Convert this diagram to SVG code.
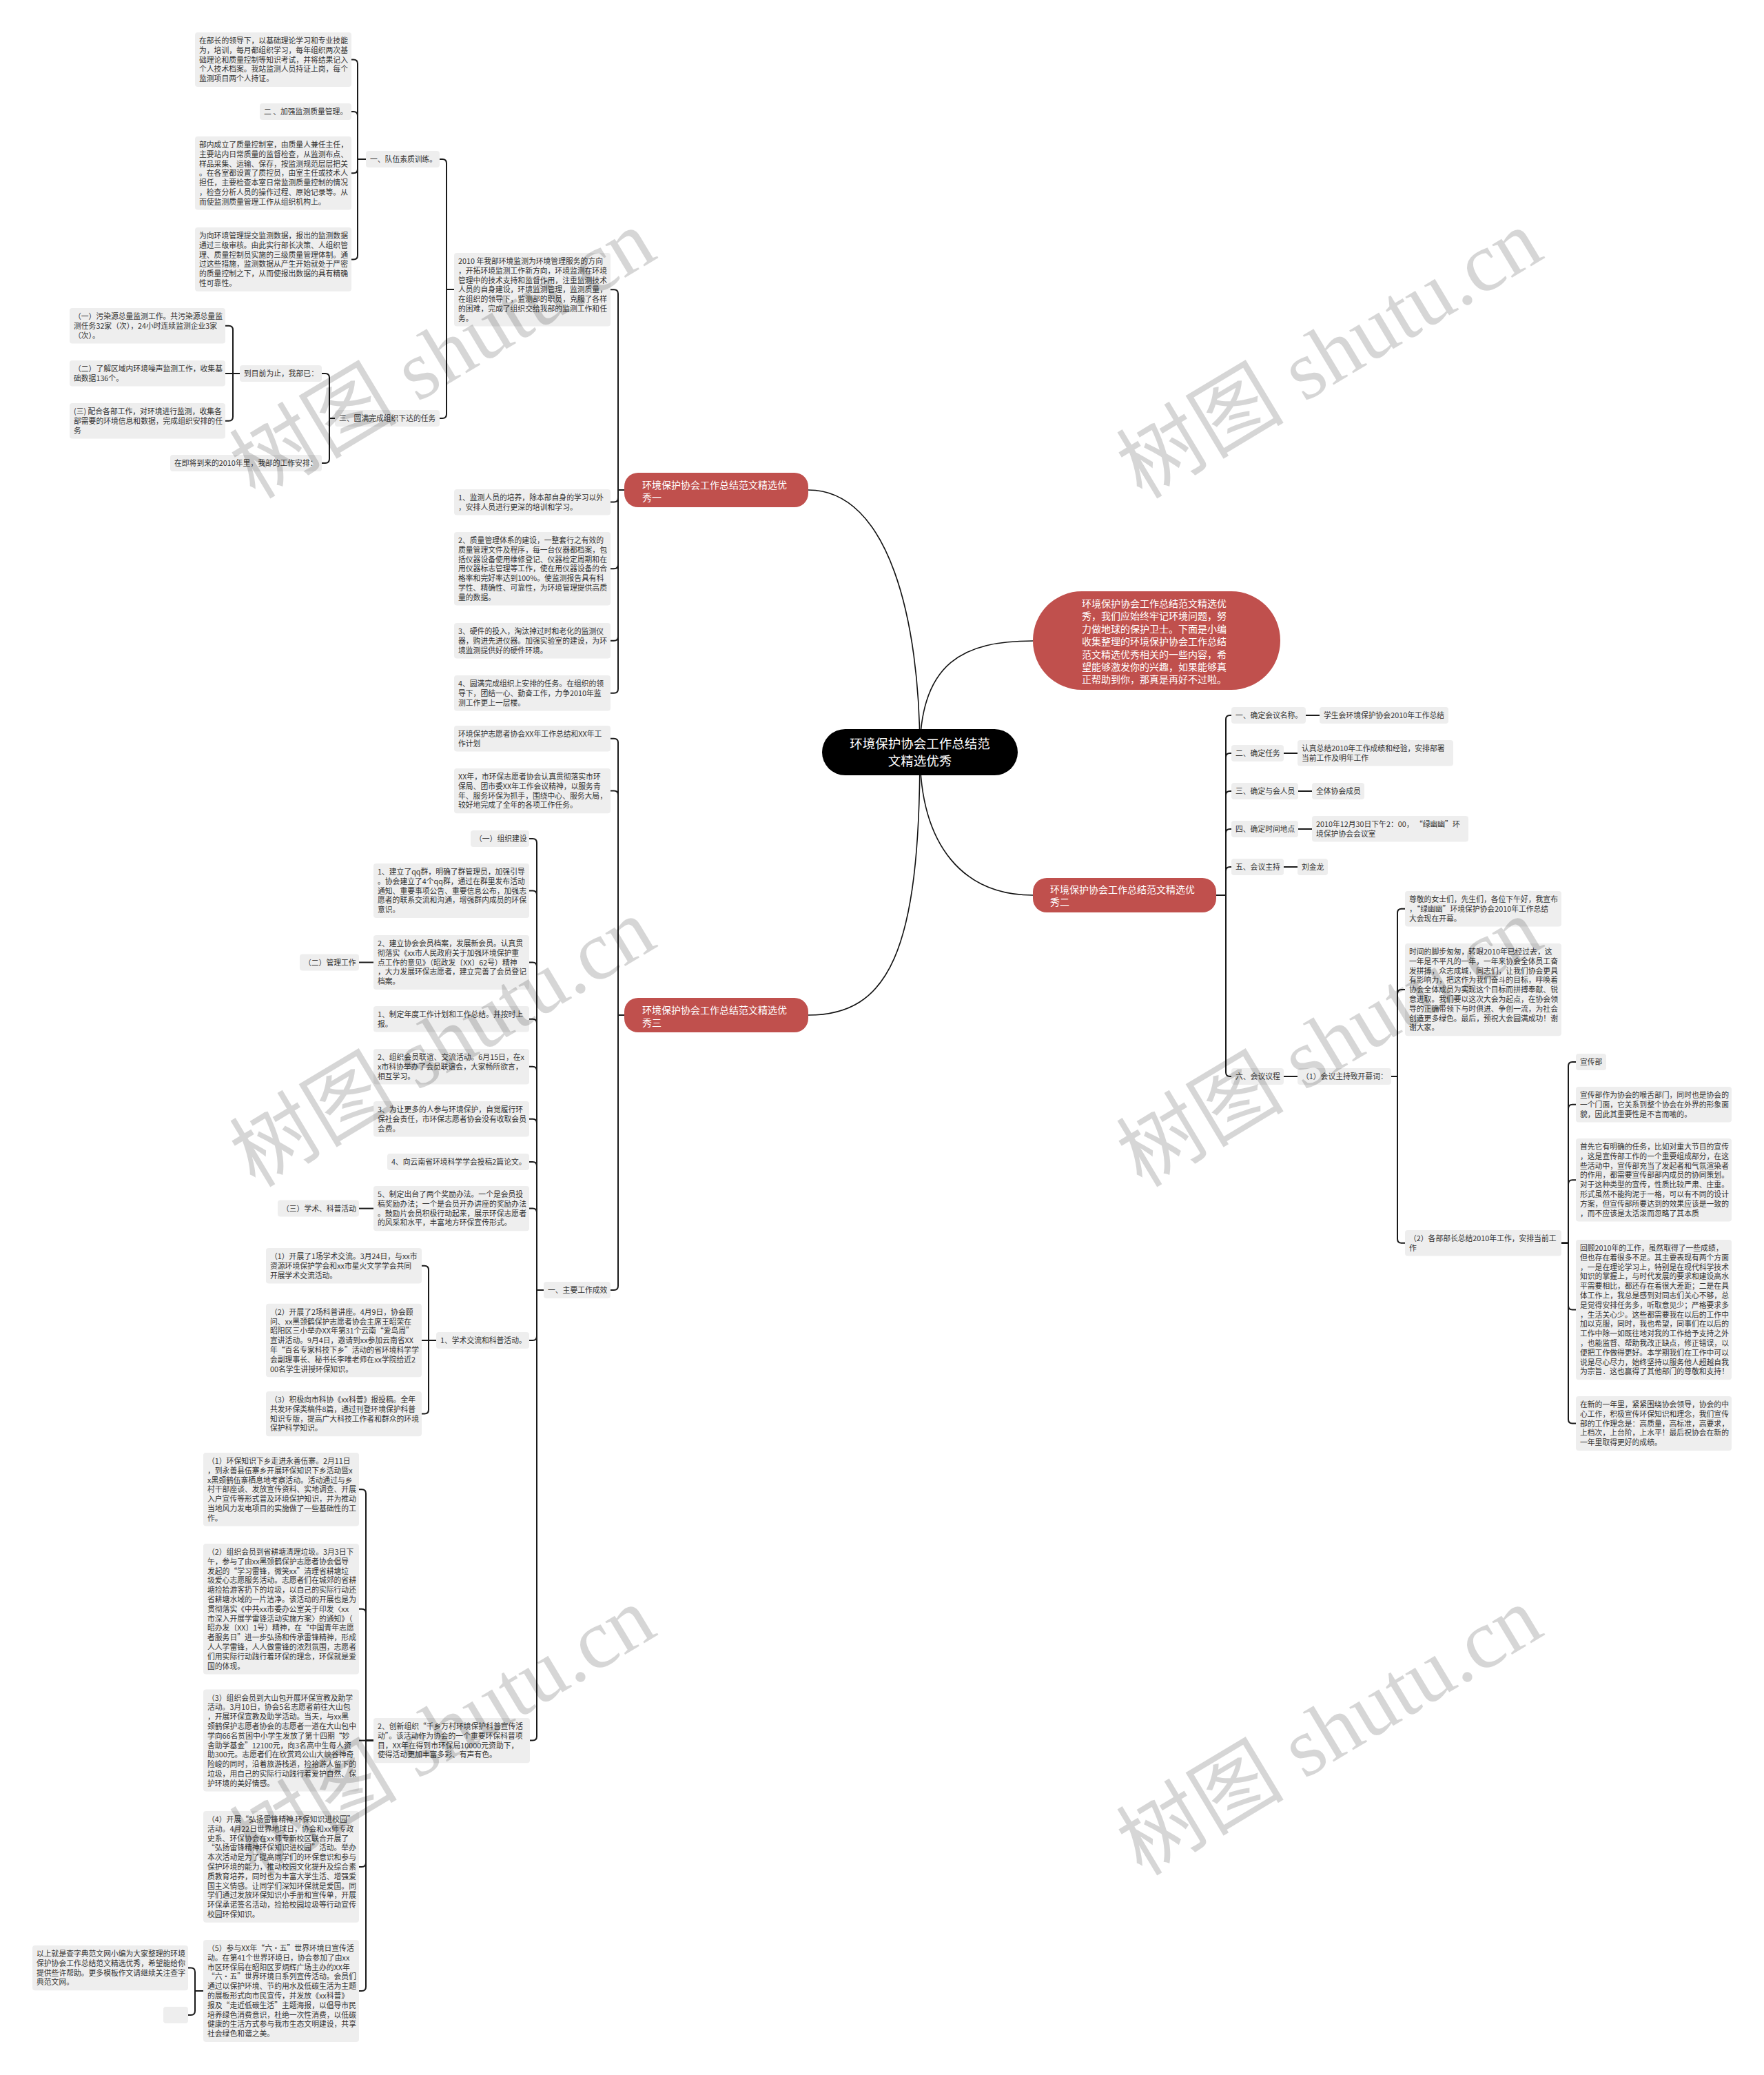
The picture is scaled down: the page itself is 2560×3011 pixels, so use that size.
<svg xmlns="http://www.w3.org/2000/svg" width="2560" height="3011" viewBox="0 0 2560 3011">
<style>
.b{fill:#eeeeee}
.t{font-family:"Noto Sans CJK SC","Noto Sans",sans-serif;font-size:10.8px;fill:#333}
.c{fill:none;stroke:#1a1a1a;stroke-width:2}
.m{fill:none;stroke:#111;stroke-width:1.6}
.r{fill:#c0504d}
.rt{font-family:"Noto Sans CJK SC","Noto Sans",sans-serif;font-size:14px;fill:#fff}
.ct{font-family:"Noto Sans CJK SC","Noto Sans",sans-serif;font-size:18.5px;fill:#fff;text-anchor:middle}
.w{font-family:"Liberation Serif","Noto Sans CJK SC",serif;font-size:122px;fill:#000;fill-opacity:.16;text-anchor:middle}
</style>
<defs>
<text id="wm" class="w" x="0" y="40">树图 shutu.cn</text>
</defs>
<rect width="2560" height="3011" fill="#fff"/>
<g id="connectors">
<path class="m" d="M1335,1091C1335,900 1290,711 1173,711"/>
<path class="m" d="M1335,1091C1335,960 1400,930 1499,930"/>
<path class="m" d="M1335,1091C1335,1230 1400,1299 1499,1299"/>
<path class="m" d="M1335,1091C1335,1380 1290,1473 1173,1473"/>
<path class="c" d="M531,231H519V92.5Q519,86.5 513,86.5H510"/>
<path class="c" d="M531,231H519V168Q519,162 513,162H510"/>
<path class="c" d="M531,231H519V245.3Q519,251.3 513,251.3H510"/>
<path class="c" d="M531,231H519V370.5Q519,376.5 513,376.5H510"/>
<path class="c" d="M659,420H648V237Q648,231 642,231H638"/>
<path class="c" d="M659,420H648V601Q648,607 642,607H638"/>
<path class="c" d="M486,607H478V548Q478,542 472,542H467"/>
<path class="c" d="M486,607H478V666Q478,672 472,672H467"/>
<path class="c" d="M348,542H338V478.7Q338,472.7 332,472.7H327"/>
<path class="c" d="M348,542H327"/>
<path class="c" d="M348,542H338V604.7Q338,610.7 332,610.7H327"/>
<path class="c" d="M906,711H897V426.3Q897,420.3 891,420.3H886"/>
<path class="c" d="M906,711H897V722.5Q897,728.5 891,728.5H886"/>
<path class="c" d="M906,711H897V819.3Q897,825.3 891,825.3H886"/>
<path class="c" d="M906,711H897V923.7Q897,929.7 891,929.7H886"/>
<path class="c" d="M906,711H897V999.7Q897,1005.7 891,1005.7H886"/>
<path class="c" d="M1765,1299H1779V1044Q1779,1038 1785,1038H1787"/>
<path class="c" d="M1765,1299H1779V1099Q1779,1093 1785,1093H1787"/>
<path class="c" d="M1765,1299H1779V1154Q1779,1148 1785,1148H1787"/>
<path class="c" d="M1765,1299H1779V1209Q1779,1203 1785,1203H1787"/>
<path class="c" d="M1765,1299H1779V1264Q1779,1258 1785,1258H1787"/>
<path class="c" d="M1765,1299H1779V1556Q1779,1562 1785,1562H1787"/>
<path class="c" d="M1895,1038H1915"/>
<path class="c" d="M1863,1093H1883"/>
<path class="c" d="M1884,1148H1904"/>
<path class="c" d="M1884,1203H1904"/>
<path class="c" d="M1863,1258H1883"/>
<path class="c" d="M1863,1562H1883"/>
<path class="c" d="M2019,1562H2028V1324.7Q2028,1318.7 2034,1318.7H2039"/>
<path class="c" d="M2019,1562H2028V1442.1Q2028,1436.1 2034,1436.1H2039"/>
<path class="c" d="M2019,1562H2028V1797.8Q2028,1803.8 2034,1803.8H2039"/>
<path class="c" d="M2266,1803.8H2276V1547Q2276,1541 2282,1541H2287"/>
<path class="c" d="M2266,1803.8H2276V1608.7Q2276,1602.7 2282,1602.7H2287"/>
<path class="c" d="M2266,1803.8H2276V1718.2Q2276,1712.2 2282,1712.2H2287"/>
<path class="c" d="M2266,1803.8H2276V1894.6Q2276,1900.6 2282,1900.6H2287"/>
<path class="c" d="M2266,1803.8H2276V2059.5Q2276,2065.5 2282,2065.5H2287"/>
<path class="c" d="M906,1473H897V1077.8Q897,1071.8 891,1071.8H886"/>
<path class="c" d="M906,1473H897V1153.6Q897,1147.6 891,1147.6H886"/>
<path class="c" d="M906,1473H897V1866Q897,1872 891,1872H886"/>
<path class="c" d="M789,1872H779V1223Q779,1217 773,1217H768"/>
<path class="c" d="M789,1872H779V1298.5Q779,1292.5 773,1292.5H768"/>
<path class="c" d="M789,1872H779V1402.5Q779,1396.5 773,1396.5H768"/>
<path class="c" d="M789,1872H779V1484.8Q779,1478.8 773,1478.8H768"/>
<path class="c" d="M789,1872H779V1553.7Q779,1547.7 773,1547.7H768"/>
<path class="c" d="M789,1872H779V1629.7Q779,1623.7 773,1623.7H768"/>
<path class="c" d="M789,1872H779V1692Q779,1686 773,1686H768"/>
<path class="c" d="M789,1872H779V1759.6Q779,1753.6 773,1753.6H768"/>
<path class="c" d="M789,1872H779V1939Q779,1945 773,1945H768"/>
<path class="c" d="M789,1872H779V2519.6Q779,2525.6 773,2525.6H768"/>
<path class="c" d="M542,1396.5H521"/>
<path class="c" d="M542,1753.6H521"/>
<path class="c" d="M633,1945H622V1842.7Q622,1836.7 616,1836.7H612"/>
<path class="c" d="M633,1945H612"/>
<path class="c" d="M633,1945H622V2045.6Q622,2051.6 616,2051.6H612"/>
<path class="c" d="M542,2525.6H531V2167.3Q531,2161.3 525,2161.3H521"/>
<path class="c" d="M542,2525.6H531V2340.7Q531,2334.7 525,2334.7H521"/>
<path class="c" d="M542,2525.6H521"/>
<path class="c" d="M542,2525.6H531V2702.9Q531,2708.9 525,2708.9H521"/>
<path class="c" d="M542,2525.6H531V2883Q531,2889 525,2889H521"/>
<path class="c" d="M295,2889H283V2861.6Q283,2855.6 277,2855.6H273"/>
<path class="c" d="M295,2889H283V2918Q283,2924 277,2924H273"/>
</g>

<g id="center"><rect x="1193" y="1058" width="284" height="67" rx="33.5" fill="#000"/><text class="ct"><tspan x="1335" y="1086">环境保护协会工作总结范</tspan><tspan x="1335" y="1110.5">文精选优秀</tspan></text></g>

<g id="b1"><rect class="r" x="906" y="686" width="267" height="50" rx="20"/><text class="rt"><tspan x="932" y="709">环境保护协会工作总结范文精选优</tspan><tspan x="932" y="726.5">秀一</tspan></text></g>
<g id="intro"><rect class="r" x="1499" y="858" width="359" height="143" rx="71"/><text class="rt"><tspan x="1570" y="881">环境保护协会工作总结范文精选优</tspan><tspan x="1570" y="899.4">秀，我们应始终牢记环境问题，努</tspan><tspan x="1570" y="917.8">力做地球的保护卫士。下面是小编</tspan><tspan x="1570" y="936.2">收集整理的环境保护协会工作总结</tspan><tspan x="1570" y="954.6">范文精选优秀相关的一些内容，希</tspan><tspan x="1570" y="973">望能够激发你的兴趣，如果能够真</tspan><tspan x="1570" y="991.4">正帮助到你，那真是再好不过啦。</tspan></text></g>
<g id="b2"><rect class="r" x="1499" y="1274" width="266" height="50" rx="20"/><text class="rt"><tspan x="1524" y="1296">环境保护协会工作总结范文精选优</tspan><tspan x="1524" y="1313.5">秀二</tspan></text></g>
<g id="b4"><rect class="r" x="906" y="1448" width="267" height="50" rx="20"/><text class="rt"><tspan x="932" y="1471">环境保护协会工作总结范文精选优</tspan><tspan x="932" y="1488.5">秀三</tspan></text></g>

<g id="a1"><rect class="b" x="283" y="47" width="227" height="79" rx="4"/><text class="t"><tspan x="289" y="63">在部长的领导下，以基础理论学习和专业技能</tspan><tspan x="289" dy="13.8">为，培训，每月都组织学习，每年组织两次基</tspan><tspan x="289" dy="13.8">础理论和质量控制等知识考试，并将结果记入</tspan><tspan x="289" dy="13.8">个人技术档案。我站监测人员持证上岗，每个</tspan><tspan x="289" dy="13.8">监测项目两个人持证。</tspan></text></g>
<g id="a2"><rect class="b" x="377" y="150" width="133" height="24" rx="4"/><text class="t" x="383" y="166">二 、加强监测质量管理。</text></g>
<g id="a3"><rect class="b" x="283" y="198" width="227" height="106.6" rx="4"/><text class="t"><tspan x="289" y="214">部内成立了质量控制室，由质量人兼任主任，</tspan><tspan x="289" dy="13.8">主要站内日常质量的监督检查，从监测布点、</tspan><tspan x="289" dy="13.8">样品采集、运输、保存，按监测规范层层把关</tspan><tspan x="289" dy="13.8">。在各室都设置了质控员，由室主任或技术人</tspan><tspan x="289" dy="13.8">担任，主要检查本室日常监测质量控制的情况</tspan><tspan x="289" dy="13.8">，检查分析人员的操作过程、原始记录等。从</tspan><tspan x="289" dy="13.8">而使监测质量管理工作从组织机构上。</tspan></text></g>
<g id="a4"><rect class="b" x="283" y="330" width="227" height="92.8" rx="4"/><text class="t"><tspan x="289" y="346">为向环境管理提交监测数据，报出的监测数据</tspan><tspan x="289" dy="13.8">通过三级审核。由此实行部长决策、人组织管</tspan><tspan x="289" dy="13.8">理、质量控制员实施的三级质量管理体制。通</tspan><tspan x="289" dy="13.8">过这些措施，监测数据从产生开始就处于严密</tspan><tspan x="289" dy="13.8">的质量控制之下，从而使报出数据的具有精确</tspan><tspan x="289" dy="13.8">性可靠性。</tspan></text></g>
<g id="l1"><rect class="b" x="531" y="219" width="107" height="24" rx="4"/><text class="t" x="537" y="235">一、队伍素质训练。</text></g>
<g id="p"><rect class="b" x="659" y="367" width="227" height="106.6" rx="4"/><text class="t"><tspan x="665" y="383">2010 年我部环境监测为环境管理服务的方向</tspan><tspan x="665" dy="13.8">，开拓环境监测工作新方向，环境监测在环境</tspan><tspan x="665" dy="13.8">管理中的技术支持和监督作用，注重监测技术</tspan><tspan x="665" dy="13.8">人员的自身建设，环境监测管理，监测质量，</tspan><tspan x="665" dy="13.8">在组织的领导下，监测部的职员，克服了各样</tspan><tspan x="665" dy="13.8">的困难，完成了组织交给我部的监测工作和任</tspan><tspan x="665" dy="13.8">务。</tspan></text></g>
<g id="l3"><rect class="b" x="486" y="595" width="152" height="24" rx="4"/><text class="t" x="492" y="611">三、圆满完成组织下达的任务</text></g>
<g id="l3a"><rect class="b" x="348" y="530" width="119" height="24" rx="4"/><text class="t" x="354" y="546">到目前为止，我部已：</text></g>
<g id="l3b"><rect class="b" x="247" y="660" width="220" height="24" rx="4"/><text class="t" x="253" y="676">在即将到来的2010年里，我部的工作安排：</text></g>
<g id="s1"><rect class="b" x="101" y="447" width="226" height="51.4" rx="4"/><text class="t"><tspan x="107" y="463">（一）污染源总量监测工作。共污染源总量监</tspan><tspan x="107" dy="13.8">测任务32家（次），24小时连续监测企业3家</tspan><tspan x="107" dy="13.8">（次）。</tspan></text></g>
<g id="s2"><rect class="b" x="101" y="523" width="226" height="37.6" rx="4"/><text class="t"><tspan x="107" y="539">（二）了解区域内环境噪声监测工作，收集基</tspan><tspan x="107" dy="13.8">础数据136个。</tspan></text></g>
<g id="s3"><rect class="b" x="101" y="585" width="226" height="51.4" rx="4"/><text class="t"><tspan x="107" y="601">(三) 配合各部工作，对环境进行监测，收集各</tspan><tspan x="107" dy="13.8">部需要的环境信息和数据，完成组织安排的任</tspan><tspan x="107" dy="13.8">务</tspan></text></g>
<g id="i1"><rect class="b" x="659" y="710" width="227" height="37.6" rx="4"/><text class="t"><tspan x="665" y="726">1、监测人员的培养，除本部自身的学习以外</tspan><tspan x="665" dy="13.8">，安排人员进行更深的培训和学习。</tspan></text></g>
<g id="i2"><rect class="b" x="659" y="772" width="227" height="106.6" rx="4"/><text class="t"><tspan x="665" y="788">2、质量管理体系的建设，一整套行之有效的</tspan><tspan x="665" dy="13.8">质量管理文件及程序，每一台仪器都档案，包</tspan><tspan x="665" dy="13.8">括仪器设备使用维修登记、仪器检定周期和在</tspan><tspan x="665" dy="13.8">用仪器标志管理等工作，使在用仪器设备的合</tspan><tspan x="665" dy="13.8">格率和完好率达到100%。使监测报告具有科</tspan><tspan x="665" dy="13.8">学性、精确性、可靠性，为环境管理提供高质</tspan><tspan x="665" dy="13.8">量的数据。</tspan></text></g>
<g id="i3"><rect class="b" x="659" y="904" width="227" height="51.4" rx="4"/><text class="t"><tspan x="665" y="920">3、硬件的投入，淘汰掉过时和老化的监测仪</tspan><tspan x="665" dy="13.8">器，购进先进仪器。加强实验室的建设，为环</tspan><tspan x="665" dy="13.8">境监测提供好的硬件环境。</tspan></text></g>
<g id="i4"><rect class="b" x="659" y="980" width="227" height="51.4" rx="4"/><text class="t"><tspan x="665" y="996">4、圆满完成组织上安排的任务。在组织的领</tspan><tspan x="665" dy="13.8">导下，团结一心、勤奋工作，力争2010年监</tspan><tspan x="665" dy="13.8">测工作更上一层楼。</tspan></text></g>

<g id="r1"><rect class="b" x="1787" y="1026" width="108" height="24" rx="4"/><text class="t" x="1793" y="1042">一、确定会议名称。</text></g>
<g id="r1c"><rect class="b" x="1915" y="1026" width="187" height="24" rx="4"/><text class="t" x="1921" y="1042">学生会环境保护协会2010年工作总结</text></g>
<g id="r2"><rect class="b" x="1787" y="1081" width="76" height="24" rx="4"/><text class="t" x="1793" y="1097">二、确定任务</text></g>
<g id="r2c"><rect class="b" x="1883" y="1074" width="226" height="37.6" rx="4"/><text class="t"><tspan x="1889" y="1090">认真总结2010年工作成绩和经验，安排部署</tspan><tspan x="1889" dy="13.8">当前工作及明年工作</tspan></text></g>
<g id="r3"><rect class="b" x="1787" y="1136" width="97" height="24" rx="4"/><text class="t" x="1793" y="1152">三、确定与会人员</text></g>
<g id="r3c"><rect class="b" x="1904" y="1136" width="76" height="24" rx="4"/><text class="t" x="1910" y="1152">全体协会成员</text></g>
<g id="r4"><rect class="b" x="1787" y="1191" width="97" height="24" rx="4"/><text class="t" x="1793" y="1207">四、确定时间地点</text></g>
<g id="r4c"><rect class="b" x="1904" y="1184" width="227" height="37.6" rx="4"/><text class="t"><tspan x="1910" y="1200">2010年12月30日下午2：00， “绿幽幽”环</tspan><tspan x="1910" dy="13.8">境保护协会会议室</tspan></text></g>
<g id="r5"><rect class="b" x="1787" y="1246" width="76" height="24" rx="4"/><text class="t" x="1793" y="1262">五、会议主持</text></g>
<g id="r5c"><rect class="b" x="1883" y="1246" width="44" height="24" rx="4"/><text class="t" x="1889" y="1262">刘金龙</text></g>
<g id="r6"><rect class="b" x="1787" y="1550" width="76" height="24" rx="4"/><text class="t" x="1793" y="1566">六、会议议程</text></g>
<g id="r6a"><rect class="b" x="1883" y="1550" width="136" height="24" rx="4"/><text class="t" x="1889" y="1566">（1）会议主持致开幕词：</text></g>
<g id="q1"><rect class="b" x="2039" y="1293" width="227" height="51.4" rx="4"/><text class="t"><tspan x="2045" y="1309">尊敬的女士们，先生们，各位下午好，我宣布</tspan><tspan x="2045" dy="13.8">，“绿幽幽”环境保护协会2010年工作总结</tspan><tspan x="2045" dy="13.8">大会现在开幕。</tspan></text></g>
<g id="q2"><rect class="b" x="2039" y="1369" width="227" height="134.2" rx="4"/><text class="t"><tspan x="2045" y="1385">时间的脚步匆匆，转眼2010年已经过去，这</tspan><tspan x="2045" dy="13.8">一年是不平凡的一年，一年来协会全体员工奋</tspan><tspan x="2045" dy="13.8">发拼搏，众志成城，同志们，让我们协会更具</tspan><tspan x="2045" dy="13.8">有影响力，把这作为我们奋斗的目标，呼唤着</tspan><tspan x="2045" dy="13.8">协会全体成员为实现这个目标而拼搏奉献、锐</tspan><tspan x="2045" dy="13.8">意进取。我们要以这次大会为起点，在协会领</tspan><tspan x="2045" dy="13.8">导的正确带领下与时俱进、争创一流，为社会</tspan><tspan x="2045" dy="13.8">创造更多绿色。最后，预祝大会圆满成功！谢</tspan><tspan x="2045" dy="13.8">谢大家。</tspan></text></g>
<g id="q3"><rect class="b" x="2039" y="1785" width="227" height="37.6" rx="4"/><text class="t"><tspan x="2045" y="1801">（2）各部部长总结2010年工作，安排当前工</tspan><tspan x="2045" dy="13.8">作</tspan></text></g>
<g id="d1"><rect class="b" x="2287" y="1529" width="44" height="24" rx="4"/><text class="t" x="2293" y="1545">宣传部</text></g>
<g id="d2"><rect class="b" x="2287" y="1577" width="226" height="51.4" rx="4"/><text class="t"><tspan x="2293" y="1593">宣传部作为协会的喉舌部门，同时也是协会的</tspan><tspan x="2293" dy="13.8">一个门面，它关系到整个协会在外界的形象面</tspan><tspan x="2293" dy="13.8">貌，因此其重要性是不言而喻的。</tspan></text></g>
<g id="d3"><rect class="b" x="2287" y="1652" width="226" height="120.4" rx="4"/><text class="t"><tspan x="2293" y="1668">首先它有明确的任务，比如对重大节目的宣传</tspan><tspan x="2293" dy="13.8">，这是宣传部工作的一个重要组成部分，在这</tspan><tspan x="2293" dy="13.8">些活动中，宣传部充当了发起者和气氛渲染者</tspan><tspan x="2293" dy="13.8">的作用，都需要宣传部部内成员的协同策划。</tspan><tspan x="2293" dy="13.8">对于这种类型的宣传，性质比较严肃、庄重。</tspan><tspan x="2293" dy="13.8">形式虽然不能拘泥于一格，可以有不同的设计</tspan><tspan x="2293" dy="13.8">方案，但宣传部所要达到的效果应该是一致的</tspan><tspan x="2293" dy="13.8">，而不应该是太活泼而忽略了其本质</tspan></text></g>
<g id="d4"><rect class="b" x="2287" y="1799" width="226" height="203.2" rx="4"/><text class="t"><tspan x="2293" y="1815">回顾2010年的工作，虽然取得了一些成绩，</tspan><tspan x="2293" dy="13.8">但也存在着很多不足。其主要表现有两个方面</tspan><tspan x="2293" dy="13.8">，一是在理论学习上，特别是在现代科学技术</tspan><tspan x="2293" dy="13.8">知识的掌握上，与时代发展的要求和建设高水</tspan><tspan x="2293" dy="13.8">平需要相比，都还存在着很大差距；二是在具</tspan><tspan x="2293" dy="13.8">体工作上，我总是感到对同志们关心不够，总</tspan><tspan x="2293" dy="13.8">是觉得安排任务多，听取意见少；严格要求多</tspan><tspan x="2293" dy="13.8">，生活关心少。这些都需要我在以后的工作中</tspan><tspan x="2293" dy="13.8">加以克服，同时，我也希望，同事们在以后的</tspan><tspan x="2293" dy="13.8">工作中除一如既往地对我的工作给予支持之外</tspan><tspan x="2293" dy="13.8">，也能监督、帮助我改正缺点，修正错误，以</tspan><tspan x="2293" dy="13.8">便把工作做得更好。本学期我们在工作中可以</tspan><tspan x="2293" dy="13.8">说是尽心尽力，始终坚持以服务他人超越自我</tspan><tspan x="2293" dy="13.8">为宗旨．这也赢得了其他部门的尊敬和支持！</tspan></text></g>
<g id="d5"><rect class="b" x="2287" y="2026" width="226" height="79" rx="4"/><text class="t"><tspan x="2293" y="2042">在新的一年里，紧紧围绕协会领导，协会的中</tspan><tspan x="2293" dy="13.8">心工作，积极宣传环保知识和理念，我们宣传</tspan><tspan x="2293" dy="13.8">部的工作理念是：高质量，高标准，高要求，</tspan><tspan x="2293" dy="13.8">上档次，上台阶，上水平！最后祝协会在新的</tspan><tspan x="2293" dy="13.8">一年里取得更好的成绩。</tspan></text></g>

<g id="v1"><rect class="b" x="659" y="1053" width="227" height="37.6" rx="4"/><text class="t"><tspan x="665" y="1069">环境保护志愿者协会XX年工作总结和XX年工</tspan><tspan x="665" dy="13.8">作计划</tspan></text></g>
<g id="v2"><rect class="b" x="659" y="1115" width="227" height="65.2" rx="4"/><text class="t"><tspan x="665" y="1131">XX年，市环保志愿者协会认真贯彻落实市环</tspan><tspan x="665" dy="13.8">保局、团市委XX年工作会议精神，以服务青</tspan><tspan x="665" dy="13.8">年、服务环保为抓手，围绕中心、服务大局，</tspan><tspan x="665" dy="13.8">较好地完成了全年的各项工作任务。</tspan></text></g>
<g id="m0"><rect class="b" x="789" y="1860" width="97" height="24" rx="4"/><text class="t" x="795" y="1876">一、主要工作成效</text></g>
<g id="m1"><rect class="b" x="683" y="1205" width="85" height="24" rx="4"/><text class="t" x="689" y="1221">（一）组织建设</text></g>
<g id="m2"><rect class="b" x="542" y="1253" width="226" height="79" rx="4"/><text class="t"><tspan x="548" y="1269">1、建立了qq群，明确了群管理员，加强引导</tspan><tspan x="548" dy="13.8">。协会建立了4个qq群，通过在群里发布活动</tspan><tspan x="548" dy="13.8">通知、重要事项公告、重要信息公布，加强志</tspan><tspan x="548" dy="13.8">愿者的联系交流和沟通，增强群内成员的环保</tspan><tspan x="548" dy="13.8">意识。</tspan></text></g>
<g id="m3"><rect class="b" x="542" y="1357" width="226" height="79" rx="4"/><text class="t"><tspan x="548" y="1373">2、建立协会会员档案，发展新会员。认真贯</tspan><tspan x="548" dy="13.8">彻落实《xx市人民政府关于加强环境保护重</tspan><tspan x="548" dy="13.8">点工作的意见》（昭政发〔XX〕62号）精神</tspan><tspan x="548" dy="13.8">，大力发展环保志愿者，建立完善了会员登记</tspan><tspan x="548" dy="13.8">档案。</tspan></text></g>
<g id="m3l"><rect class="b" x="435" y="1384.5" width="86" height="24" rx="4"/><text class="t" x="441" y="1400.5">（二）管理工作</text></g>
<g id="m4"><rect class="b" x="542" y="1460" width="226" height="37.6" rx="4"/><text class="t"><tspan x="548" y="1476">1、制定年度工作计划和工作总结。并按时上</tspan><tspan x="548" dy="13.8">报。</tspan></text></g>
<g id="m5"><rect class="b" x="542" y="1522" width="226" height="51.4" rx="4"/><text class="t"><tspan x="548" y="1538">2、组织会员联谊、交流活动。6月15日，在x</tspan><tspan x="548" dy="13.8">x市科协举办了会员联谊会，大家畅所欲言，</tspan><tspan x="548" dy="13.8">相互学习。</tspan></text></g>
<g id="m6"><rect class="b" x="542" y="1598" width="226" height="51.4" rx="4"/><text class="t"><tspan x="548" y="1614">3、为让更多的人参与环境保护，自觉履行环</tspan><tspan x="548" dy="13.8">保社会责任，市环保志愿者协会没有收取会员</tspan><tspan x="548" dy="13.8">会费。</tspan></text></g>
<g id="m7"><rect class="b" x="562" y="1674" width="206" height="24" rx="4"/><text class="t" x="568" y="1690">4、向云南省环境科学学会投稿2篇论文。</text></g>
<g id="m8"><rect class="b" x="542" y="1721" width="226" height="65.2" rx="4"/><text class="t"><tspan x="548" y="1737">5、制定出台了两个奖励办法。一个是会员投</tspan><tspan x="548" dy="13.8">稿奖励办法；一个是会员开办讲座的奖励办法</tspan><tspan x="548" dy="13.8">。鼓励片会员积极行动起来，展示环保志愿者</tspan><tspan x="548" dy="13.8">的风采和水平，丰富地方环保宣传形式。</tspan></text></g>
<g id="m8l"><rect class="b" x="403" y="1741.6" width="118" height="24" rx="4"/><text class="t" x="409" y="1757.6">（三）学术、科普活动</text></g>
<g id="m9"><rect class="b" x="633" y="1933" width="135" height="24" rx="4"/><text class="t" x="639" y="1949">1、学术交流和科普活动。</text></g>
<g id="k1"><rect class="b" x="386" y="1811" width="226" height="51.4" rx="4"/><text class="t"><tspan x="392" y="1827">（1）开展了1场学术交流。3月24日，与xx市</tspan><tspan x="392" dy="13.8">资源环境保护学会和xx市星火文学学会共同</tspan><tspan x="392" dy="13.8">开展学术交流活动。</tspan></text></g>
<g id="k2"><rect class="b" x="386" y="1891.7" width="226" height="106.6" rx="4"/><text class="t"><tspan x="392" y="1907.7">（2）开展了2场科普讲座。4月9日，协会顾</tspan><tspan x="392" dy="13.8">问、xx黑颈鹤保护志愿者协会主席王昭荣在</tspan><tspan x="392" dy="13.8">昭阳区三小举办XX年第31个云南“爱鸟周”</tspan><tspan x="392" dy="13.8">宣讲活动。9月4日，邀请到xx参加云南省XX</tspan><tspan x="392" dy="13.8">年“百名专家科技下乡”活动的省环境科学学</tspan><tspan x="392" dy="13.8">会副理事长、秘书长李唯老师在xx学院给近2</tspan><tspan x="392" dy="13.8">00名学生讲授环保知识。</tspan></text></g>
<g id="k3"><rect class="b" x="386" y="2019" width="226" height="65.2" rx="4"/><text class="t"><tspan x="392" y="2035">（3）积极向市科协《xx科普》报投稿。全年</tspan><tspan x="392" dy="13.8">共发环保类稿件8篇，通过刊登环境保护科普</tspan><tspan x="392" dy="13.8">知识专版，提高广大科技工作者和群众的环境</tspan><tspan x="392" dy="13.8">保护科学知识。</tspan></text></g>
<g id="m10"><rect class="b" x="542" y="2493" width="227" height="65.2" rx="4"/><text class="t"><tspan x="548" y="2509">2、创新组织“千乡万村环境保护科普宣传活</tspan><tspan x="548" dy="13.8">动”。该活动作为协会的一个重要环保科普项</tspan><tspan x="548" dy="13.8">目，XX年在得到市环保局10000元资助下，</tspan><tspan x="548" dy="13.8">使得活动更加丰富多彩、有声有色。</tspan></text></g>
<g id="g1"><rect class="b" x="295" y="2108" width="226" height="106.6" rx="4"/><text class="t"><tspan x="301" y="2124">（1）环保知识下乡走进永善伍寨。2月11日</tspan><tspan x="301" dy="13.8">，到永善县伍寨乡开展环保知识下乡活动暨x</tspan><tspan x="301" dy="13.8">x黑颈鹤伍寨栖息地考察活动。活动通过与乡</tspan><tspan x="301" dy="13.8">村干部座谈、发放宣传资料、实地调查、开展</tspan><tspan x="301" dy="13.8">入户宣传等形式普及环境保护知识，并为推动</tspan><tspan x="301" dy="13.8">当地风力发电项目的实施做了一些基础性的工</tspan><tspan x="301" dy="13.8">作。</tspan></text></g>
<g id="g2"><rect class="b" x="295" y="2240" width="226" height="189.4" rx="4"/><text class="t"><tspan x="301" y="2256">（2）组织会员到省耕塘清理垃圾。3月3日下</tspan><tspan x="301" dy="13.8">午，参与了由xx黑颈鹤保护志愿者协会倡导</tspan><tspan x="301" dy="13.8">发起的“学习雷锋，微笑xx”清理省耕塘垃</tspan><tspan x="301" dy="13.8">圾爱心志愿服务活动。志愿者们在城郊的省耕</tspan><tspan x="301" dy="13.8">塘捡拾游客扔下的垃圾，以自己的实际行动还</tspan><tspan x="301" dy="13.8">省耕塘水域的一片洁净。该活动的开展也是为</tspan><tspan x="301" dy="13.8">贯彻落实《中共xx市委办公室关于印发〈xx</tspan><tspan x="301" dy="13.8">市深入开展学雷锋活动实施方案〉的通知》（</tspan><tspan x="301" dy="13.8">昭办发〔XX〕1号）精神，在“中国青年志愿</tspan><tspan x="301" dy="13.8">者服务日”进一步弘扬和传承雷锋精神，形成</tspan><tspan x="301" dy="13.8">人人学雷锋，人人做雷锋的浓烈氛围，志愿者</tspan><tspan x="301" dy="13.8">们用实际行动践行着环保的理念，环保就是爱</tspan><tspan x="301" dy="13.8">国的体现。</tspan></text></g>
<g id="g3"><rect class="b" x="295" y="2451.6" width="226" height="148" rx="4"/><text class="t"><tspan x="301" y="2467.6">（3）组织会员到大山包开展环保宣教及助学</tspan><tspan x="301" dy="13.8">活动。3月10日，协会5名志愿者前往大山包</tspan><tspan x="301" dy="13.8">，开展环保宣教及助学活动。当天，与xx黑</tspan><tspan x="301" dy="13.8">颈鹤保护志愿者协会的志愿者一道在大山包中</tspan><tspan x="301" dy="13.8">学向66名贫困中小学生发放了第十四期“妙</tspan><tspan x="301" dy="13.8">舍助学基金”12100元，向3名高中生每人资</tspan><tspan x="301" dy="13.8">助300元。志愿者们在欣赏鸡公山大峡谷神奇</tspan><tspan x="301" dy="13.8">险峻的同时，沿着旅游栈道，捡拾游人留下的</tspan><tspan x="301" dy="13.8">垃圾，用自己的实际行动践行着爱护自然、保</tspan><tspan x="301" dy="13.8">护环境的美好情感。</tspan></text></g>
<g id="g4"><rect class="b" x="295" y="2628" width="226" height="161.8" rx="4"/><text class="t"><tspan x="301" y="2644">（4）开展“弘扬雷锋精神 环保知识进校园”</tspan><tspan x="301" dy="13.8">活动。4月22日世界地球日，协会和xx师专政</tspan><tspan x="301" dy="13.8">史系、环保协会在xx师专新校区联合开展了</tspan><tspan x="301" dy="13.8">“弘扬雷锋精神环保知识进校园”活动。举办</tspan><tspan x="301" dy="13.8">本次活动是为了提高同学们的环保意识和参与</tspan><tspan x="301" dy="13.8">保护环境的能力，推动校园文化提升及综合素</tspan><tspan x="301" dy="13.8">质教育培养，同时也为丰富大学生活、增强爱</tspan><tspan x="301" dy="13.8">国主义情感。让同学们深知环保就是爱国。同</tspan><tspan x="301" dy="13.8">学们通过发放环保知识小手册和宣传单，开展</tspan><tspan x="301" dy="13.8">环保承诺签名活动，捡拾校园垃圾等行动宣传</tspan><tspan x="301" dy="13.8">校园环保知识。</tspan></text></g>
<g id="g5"><rect class="b" x="295" y="2815" width="226" height="148" rx="4"/><text class="t"><tspan x="301" y="2831">（5）参与XX年“六·五”世界环境日宣传活</tspan><tspan x="301" dy="13.8">动。在第41个世界环境日，协会参加了由xx</tspan><tspan x="301" dy="13.8">市区环保局在昭阳区罗炳辉广场主办的XX年</tspan><tspan x="301" dy="13.8">“六·五”世界环境日系列宣传活动。会员们</tspan><tspan x="301" dy="13.8">通过以保护环境、节约用水及低碳生活为主题</tspan><tspan x="301" dy="13.8">的展板形式向市民宣传，并发放《xx科普》</tspan><tspan x="301" dy="13.8">报及“走近低碳生活”主题海报，以倡导市民</tspan><tspan x="301" dy="13.8">培养绿色消费意识，杜绝一次性消费，以低碳</tspan><tspan x="301" dy="13.8">健康的生活方式参与我市生态文明建设，共享</tspan><tspan x="301" dy="13.8">社会绿色和谐之美。</tspan></text></g>
<g id="e1"><rect class="b" x="47" y="2823" width="226" height="65.2" rx="4"/><text class="t"><tspan x="53" y="2839">以上就是查字典范文网小编为大家整理的环境</tspan><tspan x="53" dy="13.8">保护协会工作总结范文精选优秀，希望能给你</tspan><tspan x="53" dy="13.8">提供些许帮助。更多模板作文请继续关注查字</tspan><tspan x="53" dy="13.8">典范文网。</tspan></text></g>
<g id="e2"><rect class="b" x="237" y="2912" width="36" height="24" rx="4"/></g>

<g id="watermarks">
<use href="#wm" transform="translate(643,515) rotate(-31)"/>
<use href="#wm" transform="translate(1930,515) rotate(-31)"/>
<use href="#wm" transform="translate(643,1514) rotate(-31)"/>
<use href="#wm" transform="translate(1930,1514) rotate(-31)"/>
<use href="#wm" transform="translate(643,2513) rotate(-31)"/>
<use href="#wm" transform="translate(1930,2513) rotate(-31)"/>
</g>
</svg>
